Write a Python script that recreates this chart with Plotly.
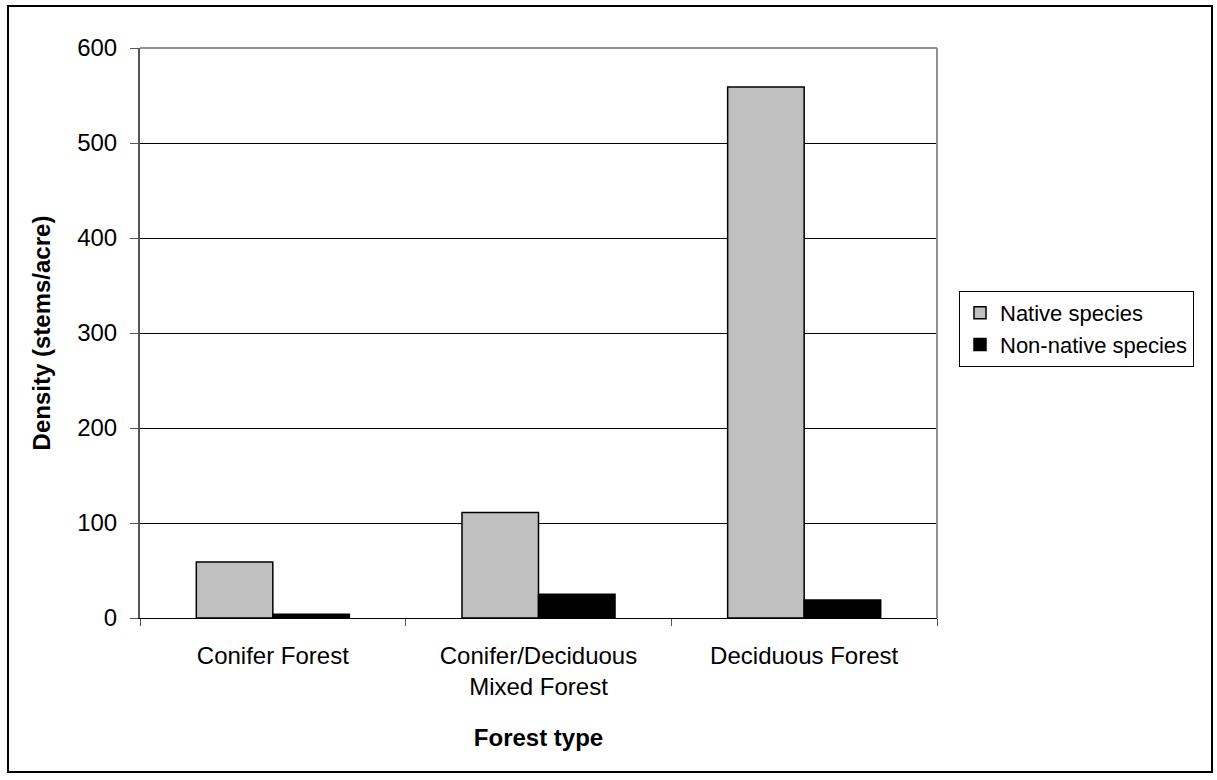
import plotly.graph_objects as go

# Stem density by forest type
forest_types = ["Conifer Forest", "Conifer/Deciduous<br>Mixed Forest", "Deciduous Forest"]
native_density = [59, 111, 559]
nonnative_density = [4, 25, 19]
y_ticks = [0, 100, 200, 300, 400, 500, 600]

FONT = "Liberation Sans, Arial, sans-serif"

fig = go.Figure()
fig.add_trace(go.Bar(
    x=forest_types, y=native_density, name="Native species",
    marker=dict(color="#c0c0c0", line=dict(color="black", width=1.5)),
))
fig.add_trace(go.Bar(
    x=forest_types, y=nonnative_density, name="Non-native species",
    marker=dict(color="black", line=dict(color="black", width=1.5)),
))

L, R, T, B = 140, 280, 48, 162
W, H = 1217, 780
pw, ph = W - L - R, H - T - B

def px_x(p):
    return (p - L) / pw

def px_y(p):
    return (H - B - p) / ph

fig.update_layout(
    width=W, height=H,
    margin=dict(l=L, r=R, t=T, b=B, autoexpand=False),
    paper_bgcolor="white", plot_bgcolor="white",
    barmode="group", bargap=0.424, bargroupgap=0,
    font=dict(family=FONT, size=24, color="black"),
    legend=dict(
        x=px_x(959), y=px_y(291), xanchor="left", yanchor="top",
        bordercolor="black", borderwidth=1, bgcolor="white",
        font=dict(family=FONT, size=22, color="black"),
        tracegroupgap=0, itemwidth=30,
    ),
    xaxis=dict(
        showline=True, linecolor="black", linewidth=1,
        ticks="outside", ticklen=7, tickcolor="#555555",
        tickson="boundaries", showgrid=False,
        ticklabelstandoff=16,
        title=dict(text="<b>Forest type</b>", standoff=30,
                   font=dict(family=FONT, size=24)),
        tickfont=dict(family=FONT, size=24),
    ),
    yaxis=dict(
        range=[0, 600], tickvals=y_ticks,
        showline=True, linecolor="#555555", linewidth=2,
        ticks="outside", ticklen=8, tickcolor="#555555",
        ticklabelstandoff=8,
        showgrid=True, gridcolor="black", gridwidth=1,
        zeroline=False,
        title=dict(text="<b>Density (stems/acre)</b>", standoff=20,
                   font=dict(family=FONT, size=24)),
        tickfont=dict(family=FONT, size=24),
    ),
    shapes=[
        # plot-area frame (top and right edges)
        dict(type="line", xref="paper", yref="paper", x0=0, x1=1, y0=1, y1=1,
             line=dict(color="#909090", width=2), layer="above"),
        dict(type="line", xref="paper", yref="paper", x0=1, x1=1, y0=0, y1=1,
             line=dict(color="#909090", width=2), layer="above"),
        # outer chart border
        dict(type="rect", xref="paper", yref="paper",
             x0=px_x(8), x1=px_x(1212), y0=px_y(772), y1=px_y(6),
             line=dict(color="black", width=2), fillcolor="rgba(0,0,0,0)"),
    ],
)

fig.write_html("out.html")
